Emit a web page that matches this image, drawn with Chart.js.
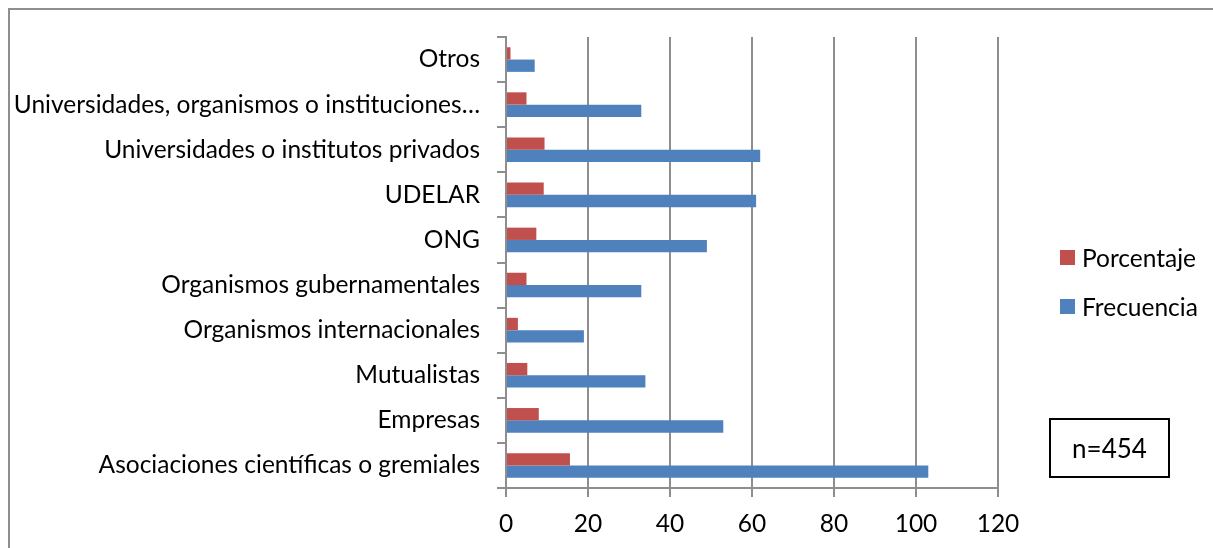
<!DOCTYPE html>
<html>
<head>
<meta charset="utf-8">
<script src="https://cdn.jsdelivr.net/npm/chart.js@4"></script>
<style>
  html, body { margin: 0; padding: 0; background: #fff; }
  body { width: 1213px; height: 548px; position: relative; overflow: hidden; font-family: 'Lato', sans-serif; }
  .frame { position: absolute; left: 8px; top: 8px; width: 1300px; height: 600px; border: 2px solid #8e8e8e; box-sizing: border-box; }
  #chart { position: absolute; left: 0; top: 0; }
  .legend { position: absolute; left: 1060px; top: 233px; font-size: 24.5px; color: #000; }
  .legend div { height: 49px; display: flex; align-items: center; }
  .legend span.sw { display: inline-block; width: 15px; height: 15px; margin-right: 7px; }
  .nbox { position: absolute; left: 1049px; top: 418px; width: 121px; height: 60px; border: 2px solid #000; box-sizing: border-box;
          display: flex; align-items: center; justify-content: center; font-size: 26px; }
</style>
</head>
<body>
<div class="frame"></div>
<canvas id="chart" width="1213" height="548"></canvas>
<div class="legend" id="legend"></div>
<div class="nbox">n=454</div>
<script>
  // datos (de arriba hacia abajo)
  const categorias = [
    'Otros',
    'Universidades, organismos o instituciones…',
    'Universidades o institutos privados',
    'UDELAR',
    'ONG',
    'Organismos gubernamentales',
    'Organismos internacionales',
    'Mutualistas',
    'Empresas',
    'Asociaciones científicas o gremiales'
  ]
  const porcentaje = [1.1, 5.0, 9.4, 9.2, 7.4, 5.0, 2.9, 5.2, 8.0, 15.6]
  const frecuencia = [7, 33, 62, 61, 49, 33, 19, 34, 53, 103]
  const ejeX = { min: 0, max: 120, paso: 20 }

  const gris = '#8e8e8e'
  const fuente = { family: 'Lato', size: 24.5 }

  const datasets = [
    { label: 'Porcentaje', data: porcentaje, backgroundColor: '#C0504D' },
    { label: 'Frecuencia', data: frecuencia, backgroundColor: '#4F81BD' }
  ]

  const chart = new Chart(document.getElementById('chart'), {
    type: 'bar',
    data: { labels: categorias, datasets },
    options: {
      indexAxis: 'y',
      responsive: false,
      animation: false,
      categoryPercentage: 0.546,
      barPercentage: 1,
      layout: { padding: { top: 37, right: 215, left: 0, bottom: 0 } },
      plugins: { legend: { display: false }, tooltip: { enabled: false } },
      scales: {
        y: {
          afterFit: s => { s.width = 506 },
          grid: { offset: true, drawOnChartArea: false, color: gris, lineWidth: 2, tickLength: 9 },
          border: { color: gris, width: 2 },
          ticks: { color: '#000', font: fuente, padding: 17 }
        },
        x: {
          min: ejeX.min,
          max: ejeX.max,
          afterFit: s => { s.height = 60 },
          grid: { color: gris, lineWidth: 2, tickLength: 9 },
          border: { color: gris, width: 2 },
          ticks: { stepSize: ejeX.paso, color: '#000', font: fuente, padding: 12 }
        }
      }
    }
  })

  // leyenda a la derecha
  const leyenda = document.getElementById('legend')
  datasets.forEach(d => {
    const fila = document.createElement('div')
    fila.innerHTML = '<span class="sw" style="background:' + d.backgroundColor + '"></span>' + d.label
    leyenda.appendChild(fila)
  })
</script>
</body>
</html>
